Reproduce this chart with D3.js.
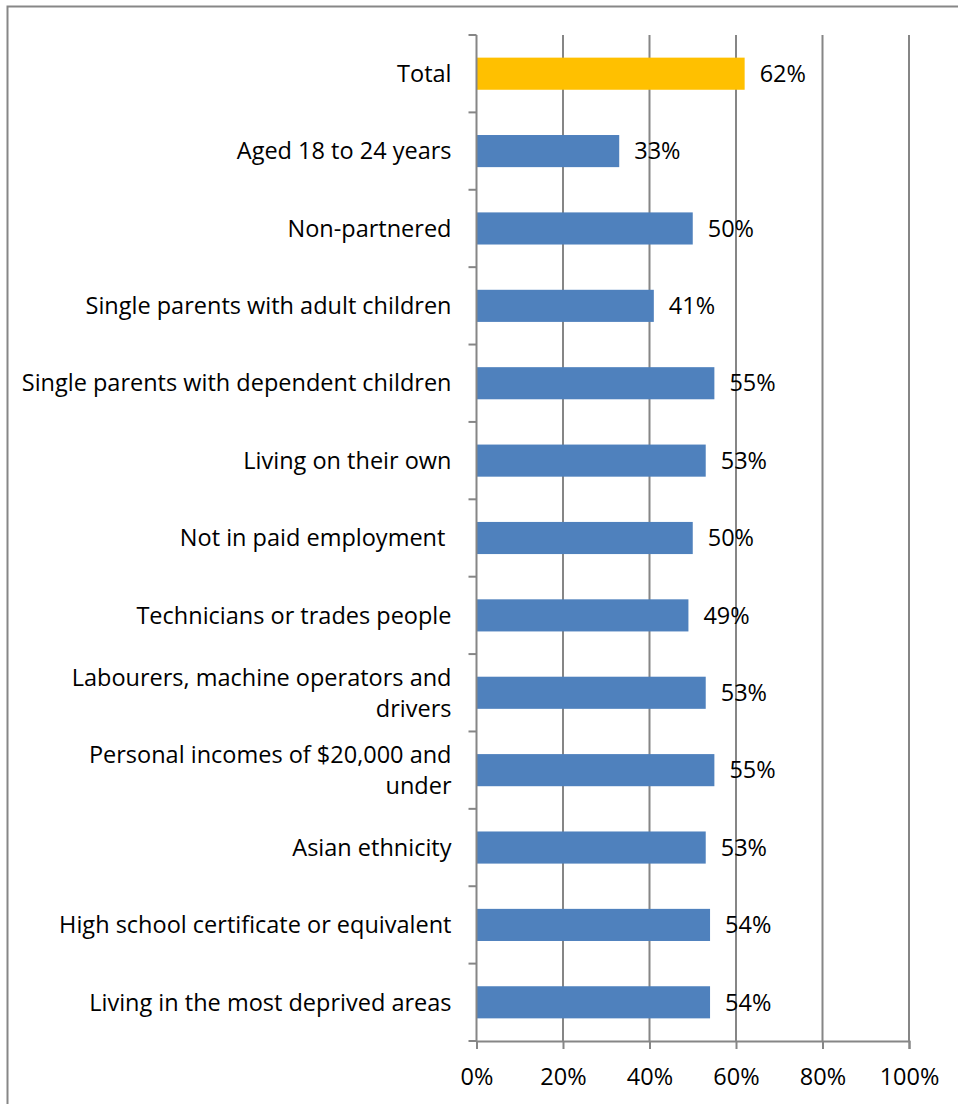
<!DOCTYPE html>
<html lang="en">
<head>
  <meta charset="UTF-8" />
  <title>Bar chart</title>
  <script src="https://d3js.org/d3.v7.min.js"></script>
  <style>
    body { margin: 0; background: #fff; }
    text { font-family: "Open Sans", "Noto Sans", sans-serif; fill: #000; }
  </style>
</head>
<body>
  <svg id="chart" width="958" height="1104"></svg>
  <script>
    const categories = [
      "Total",
      "Aged 18 to 24 years",
      "Non-partnered",
      "Single parents with adult children",
      "Single parents with dependent children",
      "Living on their own",
      "Not in paid employment ",
      "Technicians or trades people",
      "Labourers, machine operators and\ndrivers",
      "Personal incomes of $20,000 and\nunder",
      "Asian ethnicity",
      "High school certificate or equivalent",
      "Living in the most deprived areas"
    ];
    const values = [62, 33, 50, 41, 55, 53, 50, 49, 53, 55, 53, 54, 54];
    const xTicks = [0, 20, 40, 60, 80, 100];

    const fontSize = "23.5px";
    const svg = d3.select("#chart");
    const margin = { top: 35, left: 476.5, right: 49, bottom: 63 };
    const w = 958 - margin.left - margin.right;   // ~432.5
    const h = 1104 - margin.top - margin.bottom;  // ~1006

    // outer chart border
    svg.append("rect")
      .attr("x", 7.5).attr("y", 6.5)
      .attr("width", 1000).attr("height", 1200)
      .attr("fill", "none").attr("stroke", "#878787").attr("stroke-width", 2);

    const g = svg.append("g").attr("transform", `translate(${margin.left},${margin.top})`);

    const x = d3.scaleLinear().domain([0, 100]).range([0, w]);
    const y = d3.scaleBand().domain(categories).range([0, h]).paddingInner(0.585).paddingOuter(0.2925);

    // gridlines
    g.selectAll("line.grid")
      .data(xTicks.slice(1))
      .join("line")
      .attr("class", "grid")
      .attr("x1", d => x(d)).attr("x2", d => x(d))
      .attr("y1", 0).attr("y2", h)
      .attr("stroke", "#868686").attr("stroke-width", 2);

    // bars
    g.selectAll("rect.bar")
      .data(values)
      .join("rect")
      .attr("class", "bar")
      .attr("x", 0)
      .attr("y", (d, i) => y(categories[i]))
      .attr("width", d => x(d))
      .attr("height", y.bandwidth())
      .attr("fill", (d, i) => i === 0 ? "#FFC000" : "#4F81BD");

    // value labels
    g.selectAll("text.val")
      .data(values)
      .join("text")
      .attr("class", "val")
      .attr("x", d => x(d) + 15)
      .attr("y", (d, i) => y(categories[i]) + y.bandwidth() / 2)
      .attr("dy", "0.35em")
      .style("font-size", fontSize)
      .text(d => d + "%");

    // y axis line + ticks at band edges
    g.append("line")
      .attr("x1", 0).attr("x2", 0).attr("y1", 0).attr("y2", h)
      .attr("stroke", "#868686").attr("stroke-width", 2);
    g.selectAll("line.ytick")
      .data(d3.range(categories.length + 1))
      .join("line")
      .attr("class", "ytick")
      .attr("x1", -8).attr("x2", 0)
      .attr("y1", i => i * h / categories.length)
      .attr("y2", i => i * h / categories.length)
      .attr("stroke", "#868686").attr("stroke-width", 2);

    // category labels
    const catLabels = g.selectAll("text.cat")
      .data(categories)
      .join("text")
      .attr("class", "cat")
      .attr("text-anchor", "end")
      .attr("xml:space", "preserve")
      .style("white-space", "pre")
      .style("font-size", fontSize)
      .attr("transform", d => `translate(-25,${y(d) + y.bandwidth() / 2})`);
    catLabels.each(function (d) {
      const lines = d.split("\n");
      const lh = 31;
      d3.select(this).selectAll("tspan")
        .data(lines)
        .join("tspan")
        .attr("x", 0)
        .attr("y", (l, j) => (j - (lines.length - 1) / 2) * lh)
        .attr("dy", "0.35em")
        .text(l => l);
    });

    // x axis
    const xAxis = g.append("g")
      .attr("transform", `translate(0,${h})`)
      .call(d3.axisBottom(x).tickValues(xTicks).tickFormat(d => d + "%").tickSize(8).tickPadding(19));
    xAxis.select(".domain").attr("stroke", "#868686").attr("stroke-width", 2);
    xAxis.selectAll(".tick line").attr("stroke", "#868686").attr("stroke-width", 2);
    xAxis.selectAll(".tick text").style("font-size", fontSize).attr("fill", "#000");
  </script>
</body>
</html>
